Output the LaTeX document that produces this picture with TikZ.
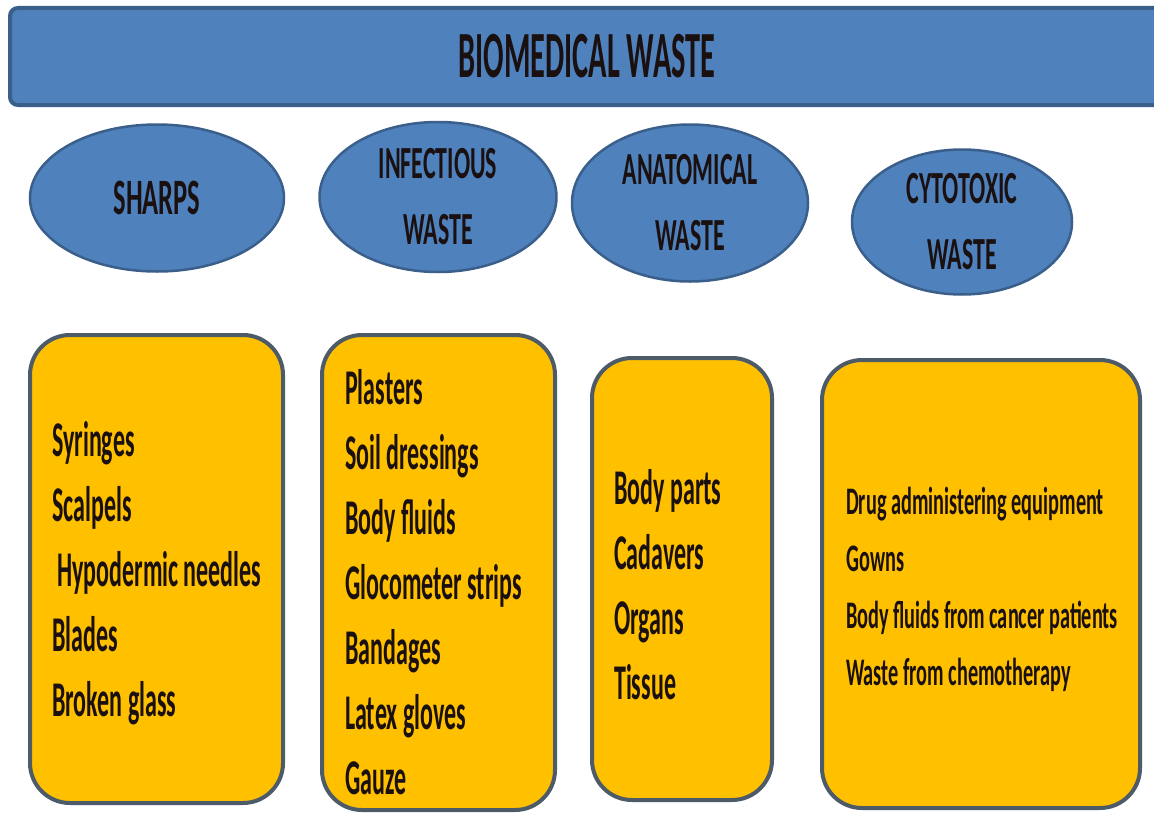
\documentclass[tikz,border=0pt]{standalone}
\usepackage{fontspec}
\setmainfont{Carlito}[FakeStretch=0.48]
\newfontfamily\titlefont{Carlito}[FakeStretch=0.46]
\newfontfamily\widefont{Carlito}[FakeStretch=0.52]
\usetikzlibrary{shapes.geometric}
\definecolor{barblue}{HTML}{4F81BD}
\definecolor{bardark}{HTML}{3A5F8B}
\definecolor{boxfill}{HTML}{FFC000}
\definecolor{boxline}{HTML}{4D5B69}
\definecolor{inktext}{HTML}{1A1010}
\begin{document}
\begin{tikzpicture}[x=1pt,y=-1pt,
 bar/.style={draw=bardark, fill=barblue, line width=4pt, rounded corners=8pt, minimum width=1154pt, minimum height=97pt, inner sep=0pt, text=inktext, font=\titlefont\bfseries\fontsize{66}{70}\selectfont},
 cat/.style={ellipse, draw=bardark, fill=barblue, line width=2.5pt, inner sep=0pt, align=center, font=\widefont\bfseries\fontsize{46}{66}\selectfont, text=inktext},
 listbox/.style={draw=boxline, fill=boxfill, line width=4pt, rounded corners=40pt, inner sep=0pt},
 items/.style={anchor=west, align=left, inner sep=0pt, font=\bfseries\fontsize{50}{65}\selectfont, text=inktext},
 smallitems/.style={items, font=\widefont\bfseries\fontsize{39}{57}\selectfont},
 ]
\useasboundingbox[fill=white] (0,0) rectangle (1154,816);
\node[bar] (title) at (587,56.5) {BIOMEDICAL WASTE};
\node[cat, minimum width=254pt, minimum height=147pt, font=\widefont\bfseries\fontsize{51}{66}\selectfont] (sharps) at (157,198) {SHARPS};
\node[cat, minimum width=237pt, minimum height=150pt] (infect) at (438,197) {INFECTIOUS\\WASTE};
\node[cat, minimum width=236pt, minimum height=157pt] (anat) at (690,203) {ANATOMICAL\\WASTE};
\node[cat, minimum width=220pt, minimum height=145pt] (cyto) at (962,222) {CYTOTOXIC\\WASTE};
\node[listbox, minimum width=253pt, minimum height=468pt] (b1) at (156.5,569) {};
\node[listbox, minimum width=233pt, minimum height=475pt] (b2) at (438.5,572.5) {};
\node[listbox, minimum width=180pt, minimum height=442pt] (b3) at (682,579) {};
\node[listbox, minimum width=318pt, minimum height=448pt] (b4) at (981,584) {};
\node[items] (l1) at (52,573) {Syringes\\Scalpels\\\hspace*{5pt}Hypodermic needles\\Blades\\Broken glass};
\node[items] (l2) at (345,582) {Plasters\\Soil dressings\\Body fluids\\Glocometer strips\\Bandages\\Latex gloves\\Gauze};
\node[items] (l3) at (614,585) {Body parts\\Cadavers\\Organs\\Tissue};
\node[smallitems] (l4) at (846,589) {Drug administering equipment\\Gowns\\Body fluids from cancer patients\\Waste from chemotherapy};
\end{tikzpicture}
\end{document}
